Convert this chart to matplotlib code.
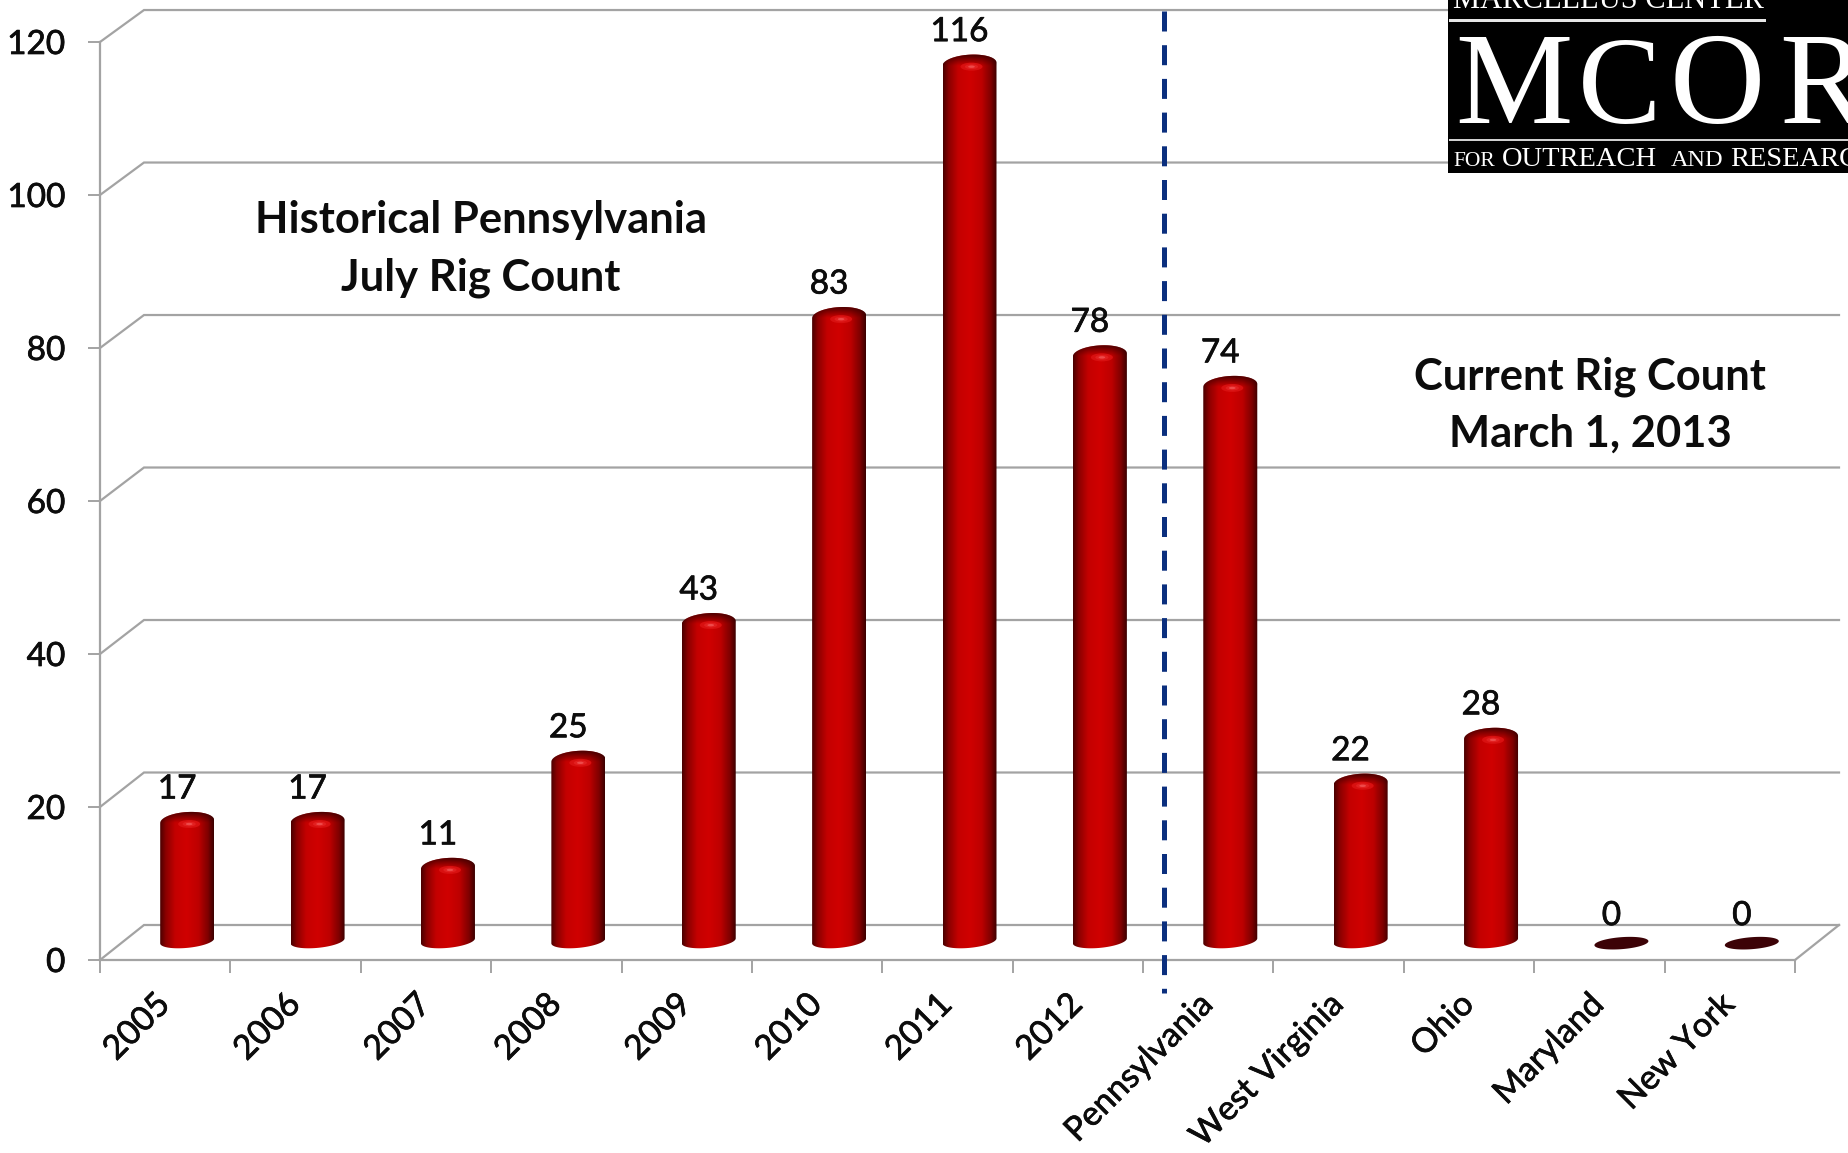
import matplotlib
matplotlib.use('Agg')
import matplotlib.pyplot as plt
import matplotlib.patheffects as pe
import numpy as np
from matplotlib.colors import LinearSegmentedColormap
from matplotlib.patches import Ellipse, PathPatch, Polygon, Rectangle
from matplotlib.path import Path

#-----DATA---------------------------------------------------------------------#
years = ['2005', '2006', '2007', '2008', '2009', '2010', '2011', '2012']
year_counts = [17, 17, 11, 25, 43, 83, 116, 78]
states = ['Pennsylvania', 'West Virginia', 'Ohio', 'Maryland', 'New York']
state_counts = [74, 22, 28, 0, 0]
y_ticks = [0, 20, 40, 60, 80, 100, 120]

labels = years + states
counts = year_counts + state_counts

#-----LAYOUT-------------------------------------------------------------------#
W, H = 1848, 1153
plt.rcParams['font.family'] = ['Lato', 'DejaVu Sans']

fig = plt.figure(figsize=(W / 100, H / 100), dpi=100, facecolor='white')
ax = fig.add_axes([100 / W, (H - 960) / H, 1695 / W, 918 / H])

px_x = 13 / 1695          # data units per pixel
px_y = 120 / 918
depth_x = 44 * px_x       # offset of the back wall
depth_y = 35 * px_y
back_scale = 0.9967
grid_col = '#a3a3a3'
lab_col = '#0c0c0c'
thick = [pe.withStroke(linewidth=0.5, foreground=lab_col)]


def fxy(x, y):
    return x / W, 1 - y / H


#-----WALLS--------------------------------------------------------------------#
for t in y_ticks:
    yb = t * back_scale + depth_y
    ax.plot([0, depth_x, 13 + depth_x], [t, yb, yb], color=grid_col, lw=1.6,
            clip_on=False, zorder=1, solid_joinstyle='miter')
ax.plot([13, 13 + depth_x], [0, depth_y], color=grid_col, lw=1.6, clip_on=False, zorder=1)

#-----BARS---------------------------------------------------------------------#
side_cmap = LinearSegmentedColormap.from_list('side', [
    (0.0, '#4c0000'), (0.10, '#8a0000'), (0.28, '#c40000'), (0.50, '#d00000'),
    (0.72, '#bd0000'), (0.90, '#7d0000'), (1.0, '#3e0000')])
half_w = 27 * px_x
bot_b = 7 * px_y
top_b = 9.5 * px_y
tilt = 2.5 * px_y

for i, v in enumerate(counts):
    cx = i + 0.5 + 22 * px_x
    if v == 0:
        # flat disc for an empty bar
        t = np.linspace(0, 2 * np.pi, 80)
        disc = np.c_[cx + half_w * np.cos(t), 2.2 + 6 * px_y * np.sin(t) + 2 * px_y * np.cos(t)]
        ax.add_patch(Polygon(disc, closed=True, facecolor='#3c0206', edgecolor='none', zorder=3))
    else:
        y0 = 2.5
        y1 = v + 1.1
        t = np.linspace(np.pi, 2 * np.pi, 40)
        low = np.c_[cx + half_w * np.cos(t), y0 + bot_b * np.sin(t) + tilt * np.cos(t)]
        t = np.linspace(0, np.pi, 40)
        up = np.c_[cx + half_w * np.cos(t), y1 + top_b * np.sin(t) + tilt * 0.6 * np.cos(t)]
        verts = np.vstack([low, up, low[:1]])
        clip = PathPatch(Path(verts), facecolor='none', edgecolor='none', transform=ax.transData)
        ax.add_patch(clip)
        body = ax.imshow(np.linspace(0, 1, 64).reshape(1, -1), cmap=side_cmap, aspect='auto',
                         extent=[cx - half_w, cx + half_w, y0 - 2, y1 + 2], zorder=3,
                         interpolation='bilinear')
        body.set_clip_path(clip)

        # dark rear of the top face, fading down towards the front
        rows = np.linspace(1, 0, 32)
        shade = np.zeros((32, 1, 4))
        shade[:, 0, 0] = 0.2
        shade[:, 0, 3] = np.clip(rows, 0, 1) ** 1.1
        top = ax.imshow(shade, aspect='auto', interpolation='bilinear', zorder=4,
                        extent=[cx - half_w, cx + half_w, y1 - 0.2, y1 + top_b + 0.2])
        top.set_clip_path(clip)

        # small highlight on the front of the cap
        for k, col in zip([1.0, 0.6, 0.3], ['#d81010', '#e22020', '#ee4a4a']):
            ax.add_patch(Ellipse((cx + 2 * px_x, y1 - 2.5 * px_y), 22 * k * px_x, 8 * k * px_y,
                                 facecolor=col, edgecolor='none', zorder=5))

    top_edge = v + 2.35 if v else 2.8
    ax.text(i + 0.5 + 12 * px_x, top_edge + 22.5 * px_y, str(v), ha='center', va='center',
            fontsize=24, color=lab_col, zorder=6, path_effects=thick)

#-----AXES---------------------------------------------------------------------#
ax.set_xlim(0, 13)
ax.set_ylim(0, 120)
ax.patch.set_visible(False)
for s in ['top', 'right']:
    ax.spines[s].set_visible(False)
for s in ['left', 'bottom']:
    ax.spines[s].set_color(grid_col)
    ax.spines[s].set_linewidth(1.6)
    ax.spines[s].set_zorder(2)

ax.set_yticks(y_ticks)
ax.tick_params(axis='y', length=9, width=1.4, color=grid_col, labelsize=24, pad=16, labelcolor=lab_col)
for lab in ax.get_yticklabels():
    lab.set_path_effects(thick)
ax.set_xticks(np.arange(14))
ax.set_xticklabels([])
ax.tick_params(axis='x', which='major', length=9, width=1.4, color=grid_col)
# labels sit a little left of the category centre
ax.set_xticks(np.arange(13) + 0.5 - 12 * px_x, minor=True)
ax.set_xticklabels(labels, minor=True, rotation=45, ha='right', va='top',
                   rotation_mode='anchor', fontsize=24.3, color=lab_col, path_effects=thick)
ax.tick_params(axis='x', which='minor', length=0, pad=20)

#-----SEPARATOR----------------------------------------------------------------#
sep_x = (1164 - 100) * px_x
ax.plot([sep_x, sep_x], [(960 - 11) * px_y, (960 - 993) * px_y], color='#0b2f7e', lw=3.6,
        linestyle=(0, (20 / 5, 13.7 / 5)), dash_capstyle='butt', clip_on=False, zorder=5)

#-----NOTES--------------------------------------------------------------------#
for txt, x, y in [('Historical Pennsylvania', 481, 220), ('July Rig Count', 481, 278),
                  ('Current Rig Count', 1590, 377), ('March 1, 2013', 1590, 434)]:
    fx, fy = fxy(x, y)
    fig.text(fx, fy, txt, ha='center', va='center', fontsize=31.3, fontweight='bold', color=lab_col)

#-----LOGO---------------------------------------------------------------------#
fig.add_artist(Rectangle(fxy(1448, 173), 400 / W, 173 / H, transform=fig.transFigure,
                         facecolor='black', edgecolor='none', zorder=10))
fig.add_artist(Rectangle(fxy(1449, 22), 317 / W, 3 / H, transform=fig.transFigure,
                         facecolor='#e6e6e6', edgecolor='none', zorder=11))
fig.add_artist(Rectangle(fxy(1449, 141), 399 / W, 2 / H, transform=fig.transFigure,
                         facecolor='#d0d0d0', edgecolor='none', zorder=11))
serif = 'Liberation Serif'
for txt, x, y, size in [('MARCELLUS CENTER', 1453, 8, 22), ('M', 1455, 123, 95), ('C', 1578, 123, 90),
                        ('O', 1670, 123, 95), ('R', 1779, 123, 95),
                        ('FOR', 1453, 166, 15.5), ('OUTREACH', 1502, 166, 20.5),
                        ('AND', 1671, 166, 17.5), ('RESEARCH', 1730, 166, 20.5)]:
    fx, fy = fxy(x, y)
    fig.text(fx, fy, txt, ha='left', va='baseline', family=serif, fontsize=size,
             color='white', zorder=12)

fig.savefig('out.png', dpi=100)
